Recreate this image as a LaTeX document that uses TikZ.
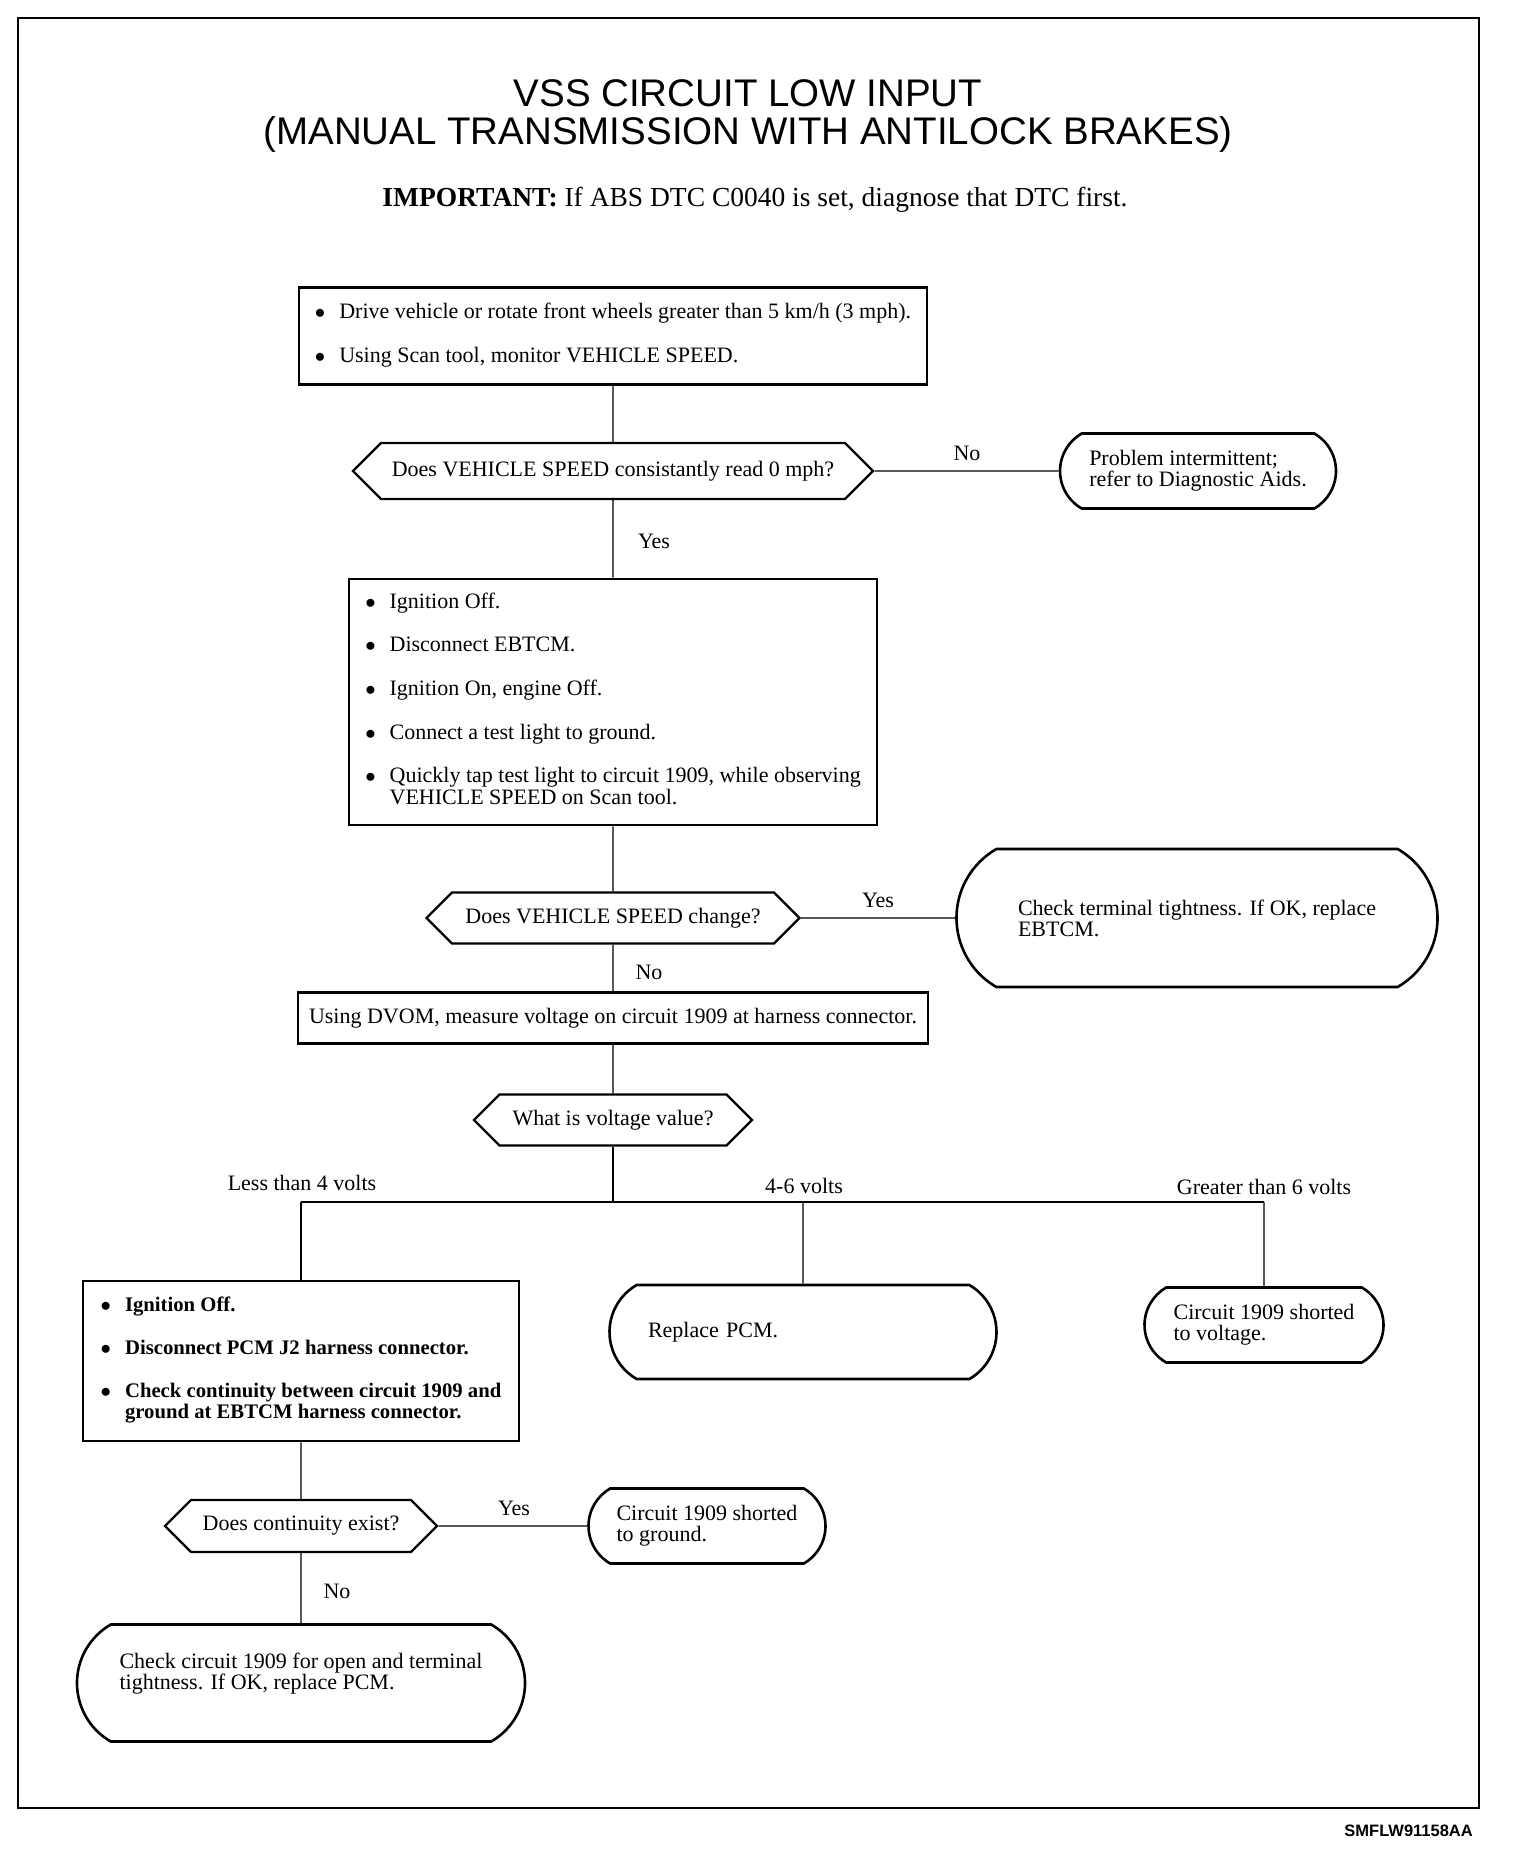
\documentclass[tikz,border=0pt]{standalone}
\usepackage{fontspec}
\setmainfont{Liberation Serif}
\newfontfamily\headfont{Liberation Sans}
\usepackage{tikz}
\usetikzlibrary{positioning,shapes.symbols,shapes.misc}

\begin{document}
\begin{tikzpicture}[x=1pt,y=-1pt,
          every node/.style={font=\fontsize{22}{21}\selectfont,inner sep=0pt},
          act/.style={draw,line width=2.6pt,rectangle,align=left},
          ask/.style={draw,line width=2.2pt,signal,signal to=west and east,signal pointer angle=90},
          res/.style={draw,line width=2.6pt,rounded rectangle,rounded rectangle arc length=120,align=left},
          lbl/.style={},
          wire/.style={line width=1.4pt},
        ]
        \useasboundingbox (0,0) rectangle (1520,1854);
        \draw[line width=2pt] (18,18) rectangle (1479,1808);
        \node[font=\headfont\fontsize{38.5}{38}\selectfont,align=center] (title) at (748,116)
          {VSS CIRCUIT LOW INPUT\\(MANUAL TRANSMISSION WITH ANTILOCK BRAKES)};
        \node[font=\fontsize{27.5}{28}\selectfont] (note) at (755,200)
          {\textbf{IMPORTANT:} If ABS DTC C0040 is set, diagnose that DTC first.};
        \node[font=\headfont\bfseries\fontsize{16.5}{17}\selectfont,anchor=east] (code) at (1473,1831) {SMFLW91158AA};

        \node[act,minimum width=628,minimum height=97] (ba) at (613,336)
          {\begin{tabular}{@{}l@{\hspace{14pt}}l@{}}
           $\bullet$ & Drive vehicle or rotate front wheels greater than 5 km/h (3 mph).\\[22pt]
           $\bullet$ & Using Scan tool, monitor VEHICLE SPEED.
           \end{tabular}};
        \node[ask,minimum width=520,minimum height=56] (qa) at (613,471) {Does VEHICLE SPEED consistantly read 0 mph?};
        \node[res,minimum width=276,minimum height=75] (ra) at (1198,471) {Problem intermittent;\\refer to Diagnostic Aids.};
        \node[act,minimum width=528,minimum height=246] (bb) at (613,702)
          {\begin{tabular}{@{}l@{\hspace{14pt}}l@{}}
           $\bullet$ & Ignition Off.\\[22pt]
           $\bullet$ & Disconnect EBTCM.\\[22pt]
           $\bullet$ & Ignition On, engine Off.\\[22pt]
           $\bullet$ & Connect a test light to ground.\\[22pt]
           $\bullet$ & Quickly tap test light to circuit 1909, while observing\\
                     & VEHICLE SPEED on Scan tool.
           \end{tabular}};
        \node[ask,minimum width=373,minimum height=51] (qb) at (613,918) {Does VEHICLE SPEED change?};
        \node[res,minimum width=481,minimum height=138] (rb) at (1197,918) {Check terminal tightness. If OK, replace\\EBTCM.};
        \node[act,minimum width=630,minimum height=51] (bc) at (613,1018) {Using DVOM, measure voltage on circuit 1909 at harness connector.};
        \node[ask,minimum width=278,minimum height=51] (qc) at (613,1120) {What is voltage value?};
        \coordinate (fk) at (613,1202);
        \coordinate (fl) at (301,1202);
        \coordinate (fr) at (1264,1202);
        \node[act,minimum width=436,minimum height=160,font=\bfseries\fontsize{20.7}{21}\selectfont] (bd) at (301,1361)
          {\begin{tabular}{@{}l@{\hspace{14pt}}l@{}}
           $\bullet$ & Ignition Off.\\[22pt]
           $\bullet$ & Disconnect PCM J2 harness connector.\\[22pt]
           $\bullet$ & Check continuity between circuit 1909 and\\
                     & ground at EBTCM harness connector.
           \end{tabular}};
        \node[res,minimum width=387,minimum height=94,text width=310] (rc) at (803,1332) {Replace PCM.};
        \node[res,minimum width=239,minimum height=75] (rd) at (1264,1325) {Circuit 1909 shorted\\to voltage.};
        \node[ask,minimum width=272,minimum height=52] (qd) at (301,1526) {Does continuity exist?};
        \node[res,minimum width=237,minimum height=75] (re) at (707,1526) {Circuit 1909 shorted\\to ground.};
        \node[res,minimum width=448,minimum height=117] (rf) at (301,1683) {Check circuit 1909 for open and terminal\\tightness. If OK, replace PCM.\\[2pt]};

        \node[lbl] (na) at (967,453) {No};
        \node[lbl] (ya) at (654,541) {Yes};
        \node[lbl] (yb) at (878,900) {Yes};
        \node[lbl] (nb) at (649,972) {No};
        \node[lbl] (va) at (302,1183) {Less than 4 volts};
        \node[lbl] (vb) at (804,1186) {4-6 volts};
        \node[lbl] (vc) at (1264,1187) {Greater than 6 volts};
        \node[lbl] (yc) at (514,1508) {Yes};
        \node[lbl] (nc) at (337,1591) {No};

        \draw[wire] (ba) -- (qa);
        \draw[wire] (qa) -- (ra);
        \draw[wire] (qa) -- (bb);
        \draw[wire] (bb) -- (qb);
        \draw[wire] (qb) -- (rb);
        \draw[wire] (qb) -- (bc);
        \draw[wire] (bc) -- (qc);
        \draw[wire] (qc) -- (fk);
        \draw[wire] (fl) -- (fr);
        \draw[wire] (fl) -- (bd);
        \draw[wire] (rc) -- (rc |- fk);
        \draw[wire] (fr) -- (rd);
        \draw[wire] (bd) -- (qd);
        \draw[wire] (qd) -- (re);
        \draw[wire] (qd) -- (rf);
      \end{tikzpicture}
\end{document}
